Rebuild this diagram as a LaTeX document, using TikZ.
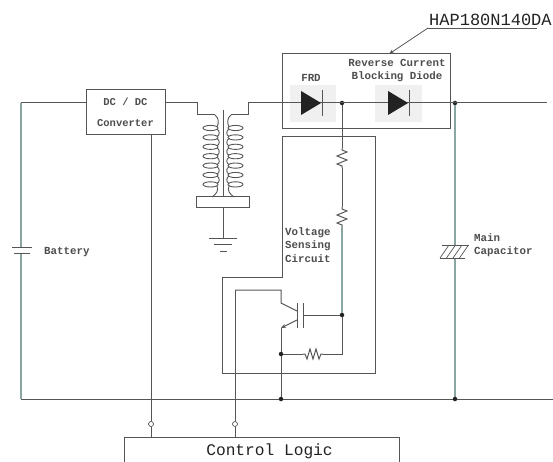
\documentclass[tikz,border=0pt]{standalone}
\usepackage{fontspec}
\setmainfont{Liberation Mono}
\usetikzlibrary{arrows.meta}
\newcommand{\vresistor}[1]{\draw[wire] (#1) -- ++(0,2) -- ++(5,2) -- ++(-10,4) -- ++(10,4) -- ++(-10,4) -- ++(5,2) -- ++(0,2);}
\newcommand{\hresistor}[1]{\draw[wire] (#1) -- ++(2,0) -- ++(2,5) -- ++(3,-10) -- ++(3,10) -- ++(3,-10) -- ++(3,10) -- ++(2,-5) -- ++(2,0);}
\newcommand{\diodesym}[1]{\fill[wirek] (#1) ++(-20,-12) -- ++(20,12) -- ++(-20,12) -- cycle; \draw[thin,wirec] (#1) ++(1,-13) -- ++(0,26);}
\tikzset{
  wire/.style={draw=wirec,line width=1pt},
  twire/.style={draw=wiret,line width=1.1pt},
  boxwire/.style={draw=wirec,line width=1pt},
  lab/.style={inner sep=0pt,font=\fontsize{10.8}{12}\selectfont\bfseries,text=wirek!80!white,anchor=west},
  labc/.style={lab,anchor=center},
  dot/.style={circle,fill=wirek,inner sep=0pt,minimum size=4.5pt},
  term/.style={circle,draw=wirec,fill=white,line width=0.7pt,inner sep=0pt,minimum size=5pt},
  shade/.style={fill=black!6,draw=none},
  coil/.style={draw=wirec,line width=0.9pt},
}
\definecolor{wirec}{HTML}{555555}
\definecolor{wiret}{HTML}{8AA6A2}
\definecolor{wirek}{HTML}{222222}
\begin{document}
\begin{tikzpicture}[x=1pt,y=-1pt]
\useasboundingbox (0,0) rectangle (553,462);
\clip (0,0) rectangle (553,462);
\fill[white] (0,0) rectangle (553,462);
% coordinates
\coordinate (tl) at (21,103);
\coordinate (bl) at (21,399);
\coordinate (br) at (553,399);
\coordinate (tr) at (547,103);
\coordinate (p1) at (197,103);
\coordinate (p2) at (197,115);
\coordinate (p3) at (215,115);
\coordinate (s1) at (248,103);
\coordinate (s2) at (248,115);
\coordinate (s3) at (231,115);
% shaded diode zones and boxes
\fill[shade] (290,85) rectangle (336,122);
\fill[shade] (375,85) rectangle (422,122);
\node[boxwire,draw,minimum width=168pt,minimum height=75pt,inner sep=0pt] (hap) at (366,91.5) {};
\node[boxwire,draw,fill=white,minimum width=79pt,minimum height=45pt,inner sep=0pt,align=center,font=\fontsize{10.5}{21}\selectfont\bfseries,text=wirek!80!white] (dc) at (125.5,112.5) {DC / DC\\Converter};
\node[boxwire,draw,minimum width=275pt,minimum height=30pt,inner sep=0pt] (ctrl) at (261.5,452) {};
\node[inner sep=0pt,font=\fontsize{16.2}{18}\selectfont,text=wirek] (ctrltext) at (269.5,451) {Control Logic};
% sensing box
\draw[boxwire] (282,137) -- (375,137) -- (375,373) -- (222,373) -- (222,277) -- (282,277) -- cycle;
% junctions
\node[dot] (j1) at (342,103) {};
\node[dot] (j2) at (455,103) {};
\node[dot] (j3) at (342,315) {};
\node[dot] (j4) at (281,354) {};
\node[dot] (j5) at (281,399) {};
% main wires
\draw[wire] (tl) -- (dc.west|-tl);
\draw[twire] (tl) -- (21,247) (21,254) -- (bl);
\draw[wire] (bl) -- (j5) -- (br);
\draw[wire] (dc.east|-tl) -- (p1) -- (p2) -- (p3);
\draw[wire] (s3) -- (s2) -- (s1) -- (tr);
% battery
\draw[wire] (12,247) -- (32,247);
\draw[wire] (14,253.5) -- (30,253.5);
\node[lab] (batl) at (44,252) {Battery};
% transformer
\draw[coil] (223,110) -- (223,197);
\draw[boxwire] (196,197) rectangle (249,207);
\coordinate (corebot) at (223,207);
\coordinate (gnd) at (223,238);
\draw[wire] (corebot) -- (gnd);
\draw[wire] (209,238) -- (237,238);
\draw[wire] (214,244) -- (232,244);
\draw[wire] (220,251) -- (227,251);
\foreach \i in {0,...,6} {
  \draw[coil] (210.5,{128+9.4*\i}) ellipse [x radius=7.5pt,y radius=2.6pt];
  \draw[coil] (235.5,{128+9.4*\i}) ellipse [x radius=7.5pt,y radius=2.6pt];
}
\foreach \i in {0,...,5} {
  \draw[coil] (217,{129+9.4*\i}) .. controls (220,{131+9.4*\i}) and (220,{135+9.4*\i}) .. (217,{136.5+9.4*\i});
  \draw[coil] (229,{129+9.4*\i}) .. controls (226,{131+9.4*\i}) and (226,{135+9.4*\i}) .. (229,{136.5+9.4*\i});
}
\draw[coil] (215,115) .. controls (219,118) and (219,123) .. (217,127);
\draw[coil] (231,115) .. controls (227,118) and (227,123) .. (229,127);
\draw[coil] (217,186) .. controls (219,191) and (216,194) .. (212,197);
\draw[coil] (229,186) .. controls (227,191) and (230,194) .. (234,197);
% diodes
\diodesym{321,103}
\diodesym{408,103}
% HAP label
\node[inner sep=0pt,anchor=west,font=\fontsize{17}{18}\selectfont,text=wirek] (haplab) at (429,20) {HAP180N140DA};
\coordinate (uleft) at (428,28);
\draw[wire,line width=0.8pt] (537,28) -- (uleft);
\draw[wire,line width=0.8pt,-{Stealth[length=5pt,width=4pt]}] (uleft) -- (389,54);
\node[labc] (frd) at (311,78) {FRD};
\node[labc,align=center,font=\fontsize{10.8}{13}\selectfont\bfseries] (rcbd) at (397,71) {Reverse Current\\Blocking Diode};
% resistor chain
\draw[wire] (j1) -- (342,148);
\vresistor{342,148}
\draw[wire] (342,168) -- (342,207);
\vresistor{342,207}
\draw[twire] (342,227) -- (j3);
\draw[wire] (j3) -- (342,354) -- (323,354);
\hresistor{303,354}
\draw[wire] (303,354) -- (j4);
% transistor
\coordinate (gate) at (303,315);
\draw[wire] (j3) -- (gate);
\draw[wire] (303,303) -- (303,328);
\draw[wire] (297,303) -- (297,328);
\coordinate (col) at (235,290);
\draw[wire] (col) -- (281,290) -- (281,303) -- (297,311);
\draw[wire,-{Stealth[length=5pt,width=4pt]}] (297,320) -- (281,328);
\draw[wire] (281,328) -- (j4) -- (j5);
% terminals
\node[term] (t1) at (151,424) {};
\node[term] (t2) at (235,424) {};
\draw[wire] (dc.south-|t1) -- (t1) -- (ctrl.north-|t1);
\draw[wire] (col) -- (t2) -- (ctrl.north-|t2);
% main capacitor
\draw[twire] (j2) -- (455,245);
\draw[twire] (455,258) -- (455,399);
\node[dot] (j6) at (455,399) {};
\draw[wire] (442,245) -- (469,245);
\draw[wire] (440,258) -- (465,258);
\foreach \x in {0,6.5,13,19.5} \draw[wire,line width=0.7pt] ({440+\x},258) -- ({449+\x},245);
\node[lab] (capa) at (474,238) {Main};
\node[lab] (capb) at (474,252) {Capacitor};
\node[lab,align=left,font=\fontsize{10.8}{13.2}\selectfont\bfseries] (vs) at (285,245) {Voltage\\Sensing\\Circuit};
\end{tikzpicture}
\end{document}
